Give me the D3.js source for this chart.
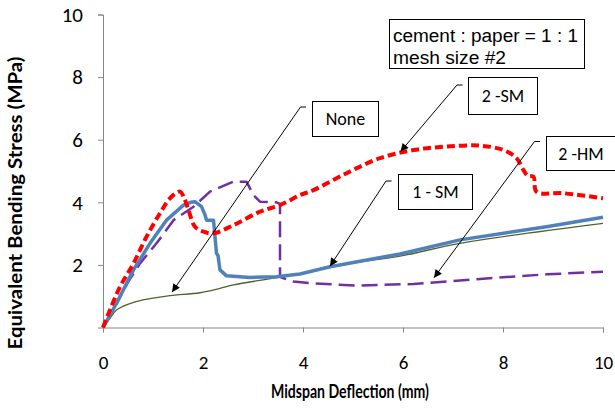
<!DOCTYPE html>
<html>
<head>
<meta charset="utf-8">
<script src="https://cdn.jsdelivr.net/npm/d3@7"></script>
<style>
  body { margin: 0; background: #fff; }
  svg { display: block; }
</style>
</head>
<body>
<div id="chart"></div>
<script>
// Bending stress vs midspan deflection (cement : paper = 1 : 1, mesh #2)

// x values (mm) and stresses (MPa) per specimen
const noneX = [0, 0.14, 0.27, 0.61, 0.94, 1.34, 1.94, 2.34, 2.61, 3.27, 3.94, 4.54, 5.94, 7.14, 10];
const noneY = [0, 0.29, 0.56, 0.80, 0.92, 1.02, 1.11, 1.25, 1.36, 1.54, 1.71, 1.96, 2.28, 2.69, 3.33];

const sm1X = [0, 0.27, 0.61, 0.94, 1.27, 1.61, 1.75, 1.84, 1.97, 2.04, 2.07, 2.21, 2.27, 2.30, 2.34, 2.47, 2.94, 3.47, 3.94, 4.54, 5.94, 7.14, 8.87, 10];
const sm1Y = [0, 0.77, 1.84, 2.69, 3.43, 3.91, 4.00, 4.02, 3.86, 3.60, 3.43, 3.43, 2.37, 2.30, 1.84, 1.65, 1.60, 1.62, 1.71, 1.94, 2.35, 2.80, 3.22, 3.52];

const sm2X = [0, 0.14, 0.34, 0.61, 0.87, 1.14, 1.34, 1.54, 1.62, 1.71, 1.84, 2.01, 2.21, 2.61, 3.14, 3.54, 3.94, 4.21, 4.87, 5.54, 6.21, 6.87, 7.54, 8.01, 8.27, 8.41, 8.50, 8.61, 8.67, 9.21, 10];
const sm2Y = [0, 0.56, 1.30, 2.05, 2.90, 3.65, 4.13, 4.34, 4.15, 3.75, 3.22, 3.06, 3.01, 3.27, 3.70, 3.91, 4.23, 4.39, 4.93, 5.41, 5.67, 5.78, 5.81, 5.67, 5.41, 5.03, 4.84, 4.82, 4.34, 4.29, 4.13];

const hm2X = [0, 0.3, 0.5, 0.74, 1.07, 1.41, 1.81, 2.14, 2.61, 2.87, 3.01, 3.14, 3.47, 3.54, 3.54, 3.60, 3.81, 4.21, 5.07, 6.21, 7.54, 8.87, 10];
const hm2Y = [0, 0.85, 1.45, 2.05, 2.69, 3.43, 3.86, 4.34, 4.66, 4.66, 4.23, 4.02, 4.00, 3.95, 1.62, 1.58, 1.47, 1.41, 1.34, 1.39, 1.55, 1.70, 1.78];

const xTicks = [0, 2, 4, 6, 8, 10];
const yTicks = [2, 4, 6, 8, 10];

// callout labels: arrow tip in data units
const calloutLabels = ['None', '2 -SM', '2 -HM', '1 - SM'];
const calloutTipX = [1.38, 5.95, 6.62, 4.54];
const calloutTipY = [1.13, 5.62, 1.59, 1.96];

const width = 615, height = 411;
const margin = { top: 14.5, right: 12, bottom: 83.5, left: 103 };
const plotW = width - margin.left - margin.right;
const plotH = height - margin.top - margin.bottom;

const svg = d3.select('#chart')
    .append('svg')
    .attr('width', width)
    .attr('height', height);

// arrow head for the callout leaders
svg.append('defs').append('marker')
    .attr('id', 'arrow')
    .attr('viewBox', '0 0 10 10')
    .attr('refX', 10)
    .attr('refY', 5)
    .attr('markerWidth', 10)
    .attr('markerHeight', 8)
    .attr('markerUnits', 'userSpaceOnUse')
    .attr('orient', 'auto')
    .append('path')
    .attr('d', 'M0,0L10,5L0,10Z')
    .attr('fill', '#000');

const g = svg.append('g')
    .attr('transform', `translate(${margin.left},${margin.top})`);

const xScale = d3.scaleLinear().domain([0, 10]).range([0, plotW]);
const yScale = d3.scaleLinear().domain([0, 10]).range([plotH, 0]);

const axisColor = '#868686';
const tickFont = 'Carlito, Lato, "Open Sans", sans-serif';

// X axis
const xAxis = g.append('g')
    .attr('transform', `translate(0,${plotH})`)
    .call(d3.axisBottom(xScale).tickValues(xTicks).tickSize(5).tickPadding(23).tickFormat(d3.format('d')));
xAxis.select('.domain').attr('stroke', axisColor);
xAxis.selectAll('.tick line').attr('stroke', axisColor);
xAxis.selectAll('.tick text')
    .style('font-family', tickFont)
    .style('font-size', '19px')
    .attr('fill', '#000');

// Y axis (no label at 0)
const yAxis = g.append('g')
    .call(d3.axisLeft(yScale).tickValues(yTicks).tickSize(5).tickPadding(15).tickFormat(d3.format('d')));
yAxis.select('.domain').attr('stroke', axisColor);
yAxis.selectAll('.tick line').attr('stroke', axisColor);
yAxis.selectAll('.tick text')
    .style('font-family', tickFont)
    .style('font-size', '21px')
    .attr('fill', '#000');

// Axis titles
svg.append('text')
    .attr('x', 350)
    .attr('y', 398)
    .attr('text-anchor', 'middle')
    .attr('textLength', 158)
    .attr('lengthAdjust', 'spacingAndGlyphs')
    .style('font-family', 'Lato, "Open Sans", sans-serif')
    .style('font-size', '19px')
    .style('font-weight', 'bold')
    .text('Midspan Deflection (mm)');

svg.append('text')
    .attr('transform', 'rotate(-90)')
    .attr('x', -203)
    .attr('y', 22)
    .attr('text-anchor', 'middle')
    .attr('textLength', 293)
    .attr('lengthAdjust', 'spacingAndGlyphs')
    .style('font-family', 'Lato, "Open Sans", sans-serif')
    .style('font-size', '18px')
    .style('font-weight', 'bold')
    .text('Equivalent Bending Stress (MPa)');

// Series lines
const series = [
    { xs: noneX, ys: noneY, color: '#4F6228', w: 1.3, dash: null, curve: d3.curveCatmullRom },
    { xs: hm2X, ys: hm2Y, color: '#7030A0', w: 2.5, dash: '16,7', curve: d3.curveLinear },
    { xs: sm1X, ys: sm1Y, color: '#4F81BD', w: 3.5, dash: null, curve: d3.curveLinear },
    { xs: sm2X, ys: sm2Y, color: '#FF0000', w: 4, dash: '8,4', curve: d3.curveCatmullRom }
];

series.forEach(s => {
    const line = d3.line()
        .x((d, i) => xScale(s.xs[i]))
        .y(d => yScale(d))
        .curve(s.curve);
    g.append('path')
        .datum(s.ys)
        .attr('d', line)
        .attr('fill', 'none')
        .attr('stroke', s.color)
        .attr('stroke-width', s.w)
        .attr('stroke-linejoin', 'round')
        .attr('stroke-dasharray', s.dash);
});

// Callouts (box position in px, leader goes elbow -> tip)
const calloutBoxes = [
    { x: 312, y: 101, w: 66, h: 35, ex: 306, ey: 107 },
    { x: 468, y: 77, w: 69, h: 37, ex: 462.5, ey: 85 },
    { x: 546, y: 136, w: 72, h: 34, ex: 540, ey: 141.5 },
    { x: 398, y: 174, w: 74, h: 35, ex: 391.5, ey: 181 }
];

calloutLabels.forEach((label, i) => {
    const b = calloutBoxes[i];
    const tx = margin.left + xScale(calloutTipX[i]);
    const ty = margin.top + yScale(calloutTipY[i]);
    svg.append('path')
        .attr('d', `M${b.ex},${b.ey}H${b.ex - 5.5}L${tx},${ty}`)
        .attr('fill', 'none')
        .attr('stroke', '#000')
        .attr('stroke-width', 1)
        .attr('marker-end', 'url(#arrow)');
    svg.append('rect')
        .attr('x', b.x + 0.5)
        .attr('y', b.y + 0.5)
        .attr('width', b.w)
        .attr('height', b.h)
        .attr('fill', '#fff')
        .attr('stroke', '#000')
        .attr('stroke-width', 1);
    svg.append('text')
        .attr('x', i === 2 ? 581 : b.x + b.w / 2 + 0.5)
        .attr('y', b.y + b.h / 2 + 6.5)
        .attr('text-anchor', 'middle')
        .style('font-family', tickFont)
        .style('font-size', '18px')
        .text(label);
});

// Info box, top right
svg.append('rect')
    .attr('x', 389.5)
    .attr('y', 19.5)
    .attr('width', 195)
    .attr('height', 49)
    .attr('fill', '#fff')
    .attr('stroke', '#000')
    .attr('stroke-width', 1);

const infoLines = ['cement : paper = 1 : 1', 'mesh size #2'];
const infoWidths = [185, 113];
infoLines.forEach((t, i) => {
    svg.append('text')
        .attr('x', 393)
        .attr('y', 42 + i * 22)
        .attr('textLength', infoWidths[i])
        .attr('lengthAdjust', 'spacingAndGlyphs')
        .style('font-family', '"Liberation Sans", Arial, sans-serif')
        .style('font-size', '18px')
        .text(t);
});
</script>
</body>
</html>
